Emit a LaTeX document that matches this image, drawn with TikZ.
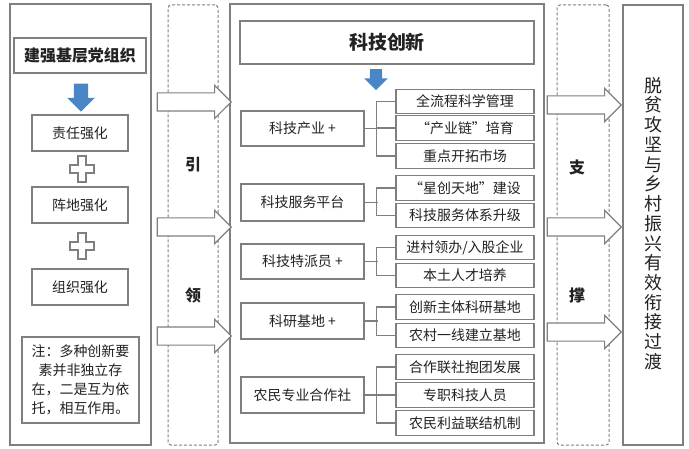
\documentclass[tikz,border=0pt]{standalone}
\usepackage{fontspec}
\setmainfont{Noto Sans CJK SC}
\usetikzlibrary{arrows.meta,positioning,calc,shapes.arrows}
\definecolor{ink}{HTML}{222222}
\definecolor{frame}{HTML}{7F7F7F}
\definecolor{bluefill}{HTML}{4A86C6}
\tikzset{
  every node/.style={text=ink},
  panel/.style={draw=frame,line width=1.2bp,fill=white,inner sep=0pt},
  dashcol/.style={draw=frame,line width=1bp,dash pattern=on 3bp off 2bp,rounded corners=3bp,inner sep=0pt},
  box/.style={draw=frame,line width=1.2bp,fill=white,inner sep=0pt,align=center,font=\fontsize{14}{15}\selectfont},
  head/.style={box,font=\bfseries\fontsize{16}{18}\selectfont},
  strong/.style={box,minimum width=96bp,minimum height=36bp},
  grp/.style={box,minimum width=123bp,minimum height=36bp},
  sub/.style={box,minimum width=138bp,minimum height=24.5bp},
  pillar/.style={font=\bfseries\fontsize{16}{18}\selectfont},
  downarr/.style={single arrow,fill=bluefill,draw=none,shape border rotate=270},
  hollow/.style={single arrow,draw=frame,fill=white,line width=1.1bp,inner xsep=0pt,inner ysep=8.5bp,minimum height=74bp,single arrow head extend=7.5bp,anchor=tip},
  link/.style={draw=frame,line width=1.1bp},
  plussign/.pic={\draw[link,fill=white] (-4,-13)--(4,-13)--(4,-4)--(12,-4)--(12,4)--(4,4)--(4,13)--(-4,13)--(-4,4)--(-12,4)--(-12,-4)--(-4,-4)--cycle;}
}
\begin{document}
\begin{tikzpicture}[x=1bp,y=-1bp]
  \useasboundingbox (0,0) rectangle (689,449);

  % party building column
  \node[panel,minimum width=141bp,minimum height=441bp] (lpanel) at (80.5,224.5) {};
  \node[head,minimum width=132bp,minimum height=35bp] (party) at (80,55.5) {建强基层党组织};
  \node[downarr,inner sep=7bp,minimum height=28bp,single arrow head extend=6.5bp] (down1) at (81,94) {};
  \node[strong] (duty) at (80,133) {责任强化};
  \pic at (82,169) {plussign};
  \node[strong] (front) at (80,205) {阵地强化};
  \pic at (82,246) {plussign};
  \node[strong] (org) at (80,287) {组织强化};
  \node[box,minimum width=117bp,minimum height=86bp,font=\fontsize{14}{19}\selectfont] (note) at (80.5,380)
    {注：多种创新要\\素并非独立存\\在，二是互为依\\托，相互作用。};

  % lead / support columns
  \node[dashcol,minimum width=50bp,minimum height=440bp] (lead) at (193,225) {};
  \node[pillar] (yin) at (193,165) {引};
  \node[pillar] (ling) at (193,295) {领};
  \node[dashcol,minimum width=52bp,minimum height=440bp] (prop) at (583,225) {};
  \node[pillar] (zhi) at (577,167) {支};
  \node[pillar] (cheng) at (577,295) {撑};

  % innovation column
  \node[panel,minimum width=314bp,minimum height=439bp] (mpanel) at (387,223.5) {};
  \node[head,minimum width=294bp,minimum height=43bp,font=\bfseries\fontsize{19}{21}\selectfont] (tech) at (387,42.5) {科技创新};
  \node[downarr,inner sep=6bp,minimum height=21bp,single arrow head extend=5.5bp] (down2) at (376,76.5) {};

  \node[grp,minimum height=35bp] (ind) at (302.5,128.5) {科技产业 +};
  \node[grp,minimum height=37bp] (serv) at (302.5,202.5) {科技服务平台};
  \node[grp,minimum height=35bp] (envoy) at (302.5,261.5) {科技特派员 +};
  \node[grp] (base) at (302.5,321) {科研基地 +};
  \node[grp] (coop) at (302.5,395) {农民专业合作社};

  \node[sub] (ind1) at (465,101.5) {全流程科学管理};
  \node[sub] (ind2) at (465,128) {“产业链”培育};
  \node[sub] (ind3) at (465,156) {重点开拓市场};
  \node[sub] (serv1) at (465,188) {“星创天地”建设};
  \node[sub] (serv2) at (465,215.5) {科技服务体系升级};
  \node[sub] (envoy1) at (465,247.5) {进村领办/入股企业};
  \node[sub] (envoy2) at (465,275.5) {本土人才培养};
  \node[sub] (base1) at (465,307) {创新主体科研基地};
  \node[sub] (base2) at (465,335.5) {农村一线建立基地};
  \node[sub] (coop1) at (465,367) {合作联社抱团发展};
  \node[sub] (coop2) at (465,395) {专职科技人员};
  \node[sub] (coop3) at (465,423) {农民利益联结机制};

  \draw[link] (ind.east) -- ++(13,0);
  \draw[link] (ind1.west) -- ++(-19,0) |- (ind3.west);
  \draw[link] (ind2.west) -- ++(-19,0);
  \draw[link] (serv.east) -- ++(13,0);
  \draw[link] (serv1.west) -- ++(-19,0) |- (serv2.west);
  \draw[link] (envoy.east) -- ++(13,0);
  \draw[link] (envoy1.west) -- ++(-19,0) |- (envoy2.west);
  \draw[link] (base.east) -- ++(13,0);
  \draw[link] (base1.west) -- ++(-19,0) |- (base2.west);
  \draw[link] (coop.east) -- (coop2.west);
  \draw[link] (coop1.west) -- ++(-19,0) |- (coop3.west);

  % goal column
  \node[panel,minimum width=60bp,minimum height=440bp] (goal) at (653,225) {};
  \node[align=center,font=\fontsize{18}{19.8}\selectfont] (goaltext) at (653,223.5)
    {脱\\贫\\攻\\坚\\与\\乡\\村\\振\\兴\\有\\效\\衔\\接\\过\\渡};

  % block arrows between columns
  \node[hollow] (la1) at (232,102) {};
  \node[hollow] (la2) at (232,227) {};
  \node[hollow] (la3) at (232,336) {};
  \node[hollow] (ra1) at (622,105) {};
  \node[hollow] (ra2) at (622,227) {};
  \node[hollow] (ra3) at (622,332) {};
\end{tikzpicture}
\end{document}
